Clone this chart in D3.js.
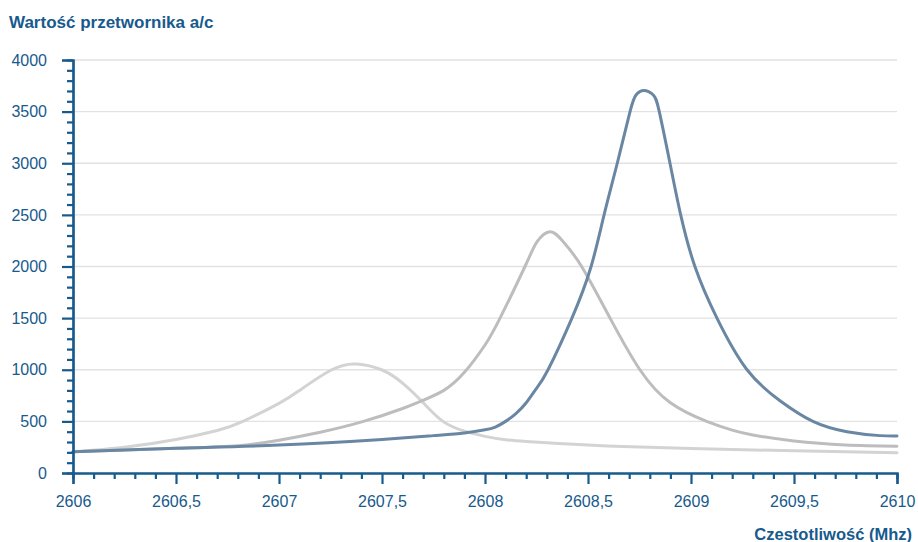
<!DOCTYPE html>
<html>
<head>
<meta charset="utf-8">
<script src="https://cdn.jsdelivr.net/npm/d3@7"></script>
<style>
  html, body { margin: 0; padding: 0; background: #fff; }
  svg { display: block; }
  text { font-family: "Liberation Sans", Arial, sans-serif; fill: #175a8d; }
</style>
</head>
<body>
<svg id="chart" width="918" height="542"></svg>
<script>
// ---- Data ----
const yTicks = [0, 500, 1000, 1500, 2000, 2500, 3000, 3500, 4000];
const xTicks = [2606, 2606.5, 2607, 2607.5, 2608, 2608.5, 2609, 2609.5, 2610];
const xTickLabels = ["2606", "2606,5", "2607", "2607,5", "2608", "2608,5", "2609", "2609,5", "2610"];

const freq1 = [2606, 2606.25, 2606.5, 2606.7, 2606.825, 2607.0, 2607.1, 2607.256, 2607.377, 2607.498, 2607.6, 2607.7, 2607.796, 2607.9, 2608.0, 2608.1, 2608.2, 2608.3, 2608.5, 2608.75, 2609.0, 2609.5, 2610];
const val1  = [205, 250, 325, 412, 500, 675, 800, 1000, 1056, 1000, 870, 680, 500, 405, 355, 322, 305, 292, 270, 252, 238, 215, 197];

const freq2 = [2606, 2606.5, 2606.8, 2607.0, 2607.2, 2607.41, 2607.6, 2607.7, 2607.8, 2607.9, 2608.0, 2608.073, 2608.194, 2608.253, 2608.316, 2608.38, 2608.469, 2608.607, 2608.752, 2608.9, 2609.076, 2609.2, 2609.3, 2609.5, 2609.75, 2610];
const val2  = [205, 240, 265, 318, 395, 500, 625, 705, 800, 975, 1240, 1500, 2000, 2240, 2337, 2240, 2000, 1500, 1000, 680, 500, 415, 368, 310, 272, 260];

const freq3 = [2606, 2606.5, 2607, 2607.5, 2607.75, 2607.9, 2608.0, 2608.05, 2608.1, 2608.15, 2608.2, 2608.25, 2608.306, 2608.422, 2608.515, 2608.578, 2608.642, 2608.704, 2608.733, 2608.771, 2608.817, 2608.846, 2608.898, 2608.95, 2609.019, 2609.126, 2609.272, 2609.432, 2609.592, 2609.757, 2609.917, 2610];
const val3  = [205, 240, 270, 325, 362, 388, 418, 445, 500, 575, 680, 820, 1000, 1500, 2000, 2500, 3000, 3500, 3661, 3705, 3661, 3500, 3000, 2500, 2000, 1500, 1000, 700, 500, 400, 362, 358];

const seriesColors = ["#d3d3d3", "#bdbdbf", "#6987a3"];

// ---- Chart ----
const svg = d3.select("#chart");
const margin = { left: 73, right: 21, top: 60, bottom: 69 };
const W = 918, H = 542;

const x = d3.scaleLinear().domain([2606, 2610]).range([margin.left, W - margin.right]);
const y = d3.scaleLinear().domain([0, 4000]).range([H - margin.bottom, margin.top]);

const axisColor = "#175a8d";

// gridlines
svg.append("g")
  .selectAll("line")
  .data(yTicks.filter(d => d > 0))
  .join("line")
  .attr("x1", x(2606)).attr("x2", x(2610))
  .attr("y1", d => y(d)).attr("y2", d => y(d))
  .attr("stroke", "#e2e2e2").attr("stroke-width", 1.3);

// series
const line = d3.line().x(d => x(d[0])).y(d => y(d[1])).curve(d3.curveNatural);
const series = [
  d3.zip(freq1, val1),
  d3.zip(freq2, val2),
  d3.zip(freq3, val3)
];
svg.append("g").selectAll("path")
  .data(series)
  .join("path")
  .attr("d", d => line(d))
  .attr("fill", "none")
  .attr("stroke", (d, i) => seriesColors[i])
  .attr("stroke-width", 3)
  .attr("stroke-linejoin", "round")
  .attr("stroke-linecap", "round");

// y axis
const yMinor = d3.range(0, 4001, 100).filter(v => v % 500 !== 0);
const yAxisG = svg.append("g").attr("transform", `translate(${margin.left},0)`);
yAxisG.call(d3.axisLeft(y).tickValues(yMinor).tickSize(6).tickFormat(""));
yAxisG.append("g").call(d3.axisLeft(y).tickValues(yTicks).tickSize(11).tickPadding(15).tickFormat(d3.format("d")));
yAxisG.selectAll("path.domain").attr("stroke", axisColor).attr("stroke-width", 2.2);
yAxisG.selectAll("line").attr("stroke", axisColor).attr("stroke-width", 2.2);
yAxisG.selectAll("text").style("font-size", "16px").attr("fill", axisColor);

// x axis
const xMinor = d3.range(0, 41).map(i => 2606 + i / 10).filter((v, i) => i % 5 !== 0);
const xAxisG = svg.append("g").attr("transform", `translate(0,${H - margin.bottom})`);
xAxisG.call(d3.axisBottom(x).tickValues(xMinor).tickSize(6).tickFormat(""));
xAxisG.append("g").call(d3.axisBottom(x).tickValues(xTicks).tickSize(11).tickPadding(12)
  .tickFormat((d, i) => xTickLabels[i]));
xAxisG.selectAll("path.domain").attr("stroke", axisColor).attr("stroke-width", 2.2);
xAxisG.selectAll("line").attr("stroke", axisColor).attr("stroke-width", 2.2);
xAxisG.selectAll("text").style("font-size", "16px").attr("fill", axisColor);

// titles
svg.append("text")
  .attr("x", 9).attr("y", 28)
  .style("font-size", "17px").style("font-weight", "bold")
  .attr("fill", axisColor)
  .text("Wartość przetwornika a/c");

svg.append("text")
  .attr("x", 912).attr("y", 540)
  .attr("text-anchor", "end")
  .style("font-size", "16.5px").style("font-weight", "bold")
  .attr("fill", axisColor)
  .text("Czestotliwość (Mhz)");
</script>
</body>
</html>
